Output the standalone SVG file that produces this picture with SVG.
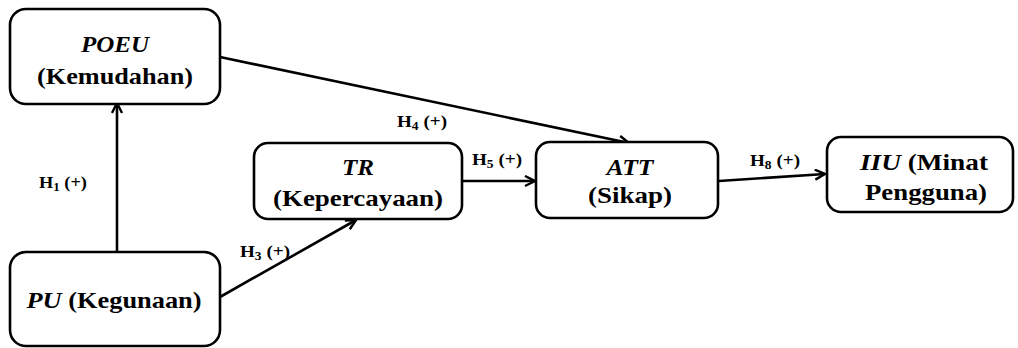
<svg xmlns="http://www.w3.org/2000/svg" width="1018" height="348" viewBox="0 0 1018 348">
<defs>
<marker id="arr" markerWidth="14" markerHeight="14" refX="11" refY="6" orient="auto" markerUnits="userSpaceOnUse">
<path d="M1,1 L11,6 L1,11" fill="none" stroke="#000" stroke-width="2.4" stroke-linejoin="miter"/>
</marker>
</defs>
<style>
.box{fill:#fff;stroke:#000;stroke-width:2.6}
.t{font-weight:bold;font-size:24px;fill:#000;text-anchor:middle}
.i{font-style:italic}
.lab{font-weight:bold;font-size:17px;fill:#000}
.c{fill:none;stroke:#000;stroke-width:2.6}
</style>
<rect width="1018" height="348" fill="#fff"/>
<g font-family="Liberation Serif, serif">
<g id="connectors">
<line class="c" x1="117" y1="252" x2="117" y2="103" marker-end="url(#arr)"/>
<line class="c" x1="220" y1="57" x2="629" y2="143" marker-end="url(#arr)"/>
<line class="c" x1="462" y1="181" x2="535" y2="181" marker-end="url(#arr)"/>
<line class="c" x1="220" y1="297" x2="356" y2="220" marker-end="url(#arr)"/>
<line class="c" x1="719" y1="181" x2="825" y2="174" marker-end="url(#arr)"/>
<text class="lab" x="39" y="188" textLength="48" lengthAdjust="spacingAndGlyphs">H<tspan font-size="12" dy="3">1</tspan><tspan dy="-3"> (+)</tspan></text>
<text class="lab" x="240" y="257" textLength="50" lengthAdjust="spacingAndGlyphs">H<tspan font-size="12" dy="3">3</tspan><tspan dy="-3"> (+)</tspan></text>
<text class="lab" x="397" y="127" textLength="50" lengthAdjust="spacingAndGlyphs">H<tspan font-size="12" dy="3">4</tspan><tspan dy="-3"> (+)</tspan></text>
<text class="lab" x="472" y="165" textLength="50" lengthAdjust="spacingAndGlyphs">H<tspan font-size="12" dy="3">5</tspan><tspan dy="-3"> (+)</tspan></text>
<text class="lab" x="750" y="166" textLength="50" lengthAdjust="spacingAndGlyphs">H<tspan font-size="12" dy="3">8</tspan><tspan dy="-3"> (+)</tspan></text>
</g>
<g id="poeu">
<rect class="box" x="10" y="9" width="210" height="95" rx="16"/>
<text class="t i" x="115" y="52" textLength="68" lengthAdjust="spacingAndGlyphs">POEU</text>
<text class="t" x="115" y="84" textLength="156" lengthAdjust="spacingAndGlyphs">(Kemudahan)</text>
</g>
<g id="pu">
<rect class="box" x="10" y="252" width="210" height="94" rx="16"/>
<text class="t" x="114" y="308" textLength="175" lengthAdjust="spacingAndGlyphs"><tspan class="i">PU</tspan> (Kegunaan)</text>
</g>
<g id="tr">
<rect class="box" x="254" y="143" width="208" height="76" rx="14"/>
<text class="t i" x="358" y="175" textLength="32" lengthAdjust="spacingAndGlyphs">TR</text>
<text class="t" x="358" y="206" textLength="170" lengthAdjust="spacingAndGlyphs">(Kepercayaan)</text>
</g>
<g id="att">
<rect class="box" x="536" y="142" width="182" height="76" rx="14"/>
<text class="t i" x="630" y="175" textLength="47" lengthAdjust="spacingAndGlyphs">ATT</text>
<text class="t" x="630" y="203" textLength="84" lengthAdjust="spacingAndGlyphs">(Sikap)</text>
</g>
<g id="iiu">
<rect class="box" x="827" y="137" width="186" height="75" rx="14"/>
<text class="t" x="924" y="170" textLength="128" lengthAdjust="spacingAndGlyphs"><tspan class="i">IIU</tspan> (Minat</text>
<text class="t" x="926" y="200" textLength="122" lengthAdjust="spacingAndGlyphs">Pengguna)</text>
</g>
</g>
</svg>
